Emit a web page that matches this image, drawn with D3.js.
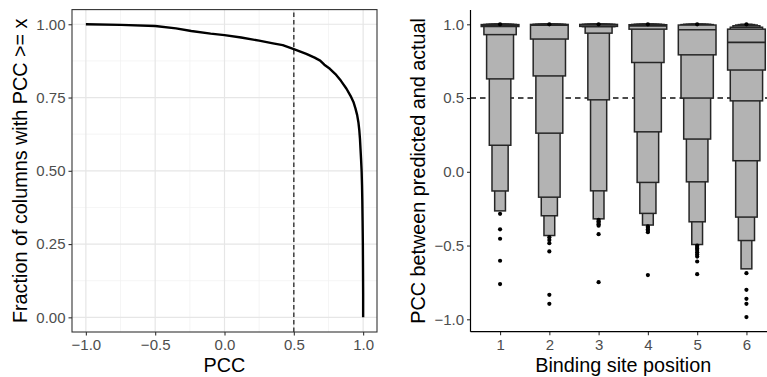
<!DOCTYPE html>
<html>
<head>
<meta charset="utf-8">
<script src="https://cdn.jsdelivr.net/npm/d3@7"></script>
<style>
  body { margin: 0; background: #fff; }
  svg { display: block; font-family: "Liberation Sans", Arial, Helvetica, sans-serif; }
  .tick text { fill: #4d4d4d; font-size: 15px; }
  .tick line { stroke: #333; stroke-width: 1.1; }
</style>
</head>
<body>
<div id="chart"></div>
<script>
// left panel: fraction of columns with PCC >= x
const pccX = [-1.0, -0.75, -0.5, -0.35, -0.24, -0.1, 0.0, 0.12, 0.25, 0.35, 0.42, 0.5,
  0.59, 0.65, 0.69, 0.72, 0.76, 0.8, 0.84, 0.88, 0.91, 0.93, 0.945, 0.957, 0.966, 0.972,
  0.977, 0.981, 0.985, 0.989, 0.992, 0.994, 0.996, 0.998, 0.999, 1.0, 1.0];
const fracGE = [1.0, 0.998, 0.994, 0.986, 0.977, 0.968, 0.963, 0.955, 0.944, 0.935, 0.929, 0.915,
  0.899, 0.886, 0.876, 0.862, 0.848, 0.83, 0.807, 0.78, 0.755, 0.735, 0.712, 0.69, 0.665, 0.64,
  0.61, 0.575, 0.54, 0.5, 0.45, 0.4, 0.33, 0.25, 0.17, 0.08, 0.0];
const leftXTicks = [-1.0, -0.5, 0.0, 0.5, 1.0];
const leftYTicks = [0, 0.25, 0.5, 0.75, 1.0];

// right panel: letter-value boxes per binding site position
const positions = ["1", "2", "3", "4", "5", "6"];
const medians = [0.995, 0.995, 0.997, 0.99, 0.963, 0.877];
const lowerLV = [
  [0.985, 0.93, 0.63, 0.18, -0.13, -0.265],
  [0.90, 0.65, 0.262, -0.172, -0.298, -0.432],
  [0.986, 0.984, 0.94, 0.488, -0.129, -0.319],
  [0.967, 0.741, 0.271, -0.072, -0.282, -0.361],
  [0.793, 0.5, 0.222, -0.068, -0.339, -0.493],
  [0.69, 0.481, 0.075, -0.307, -0.466, -0.658]
];
const upperLV = [
  [0.998, 0.999, 1.0, 1.0, 1.0, 1.0],
  [0.999, 1.0, 1.0, 1.0, 1.0, 1.0],
  [0.999, 1.0, 1.0, 1.0, 1.0, 1.0],
  [0.997, 0.999, 1.0, 1.0, 1.0, 1.0],
  [0.995, 0.998, 1.0, 1.0, 1.0, 1.0],
  [0.967, 0.98, 0.99, 0.995, 0.998, 1.0]
];
const outliers = [
  [1.0, -0.285, -0.39, -0.454, -0.603, -0.761],
  [1.0, -0.443, -0.462, -0.484, -0.54, -0.834, -0.895],
  [1.0, -0.325, -0.335, -0.345, -0.355, -0.365, -0.423, -0.748],
  [1.0, -0.37, -0.38, -0.39, -0.40, -0.41, -0.70],
  [1.0, -0.50, -0.51, -0.52, -0.53, -0.545, -0.56, -0.575, -0.608, -0.694],
  [1.0, -0.687, -0.80, -0.861, -0.895, -0.985]
];
const rightYTicks = [-1.0, -0.5, 0.0, 0.5, 1.0];

const W = 767, H = 377;
const svg = d3.select("#chart").append("svg")
  .attr("width", W).attr("height", H);

// ---------- left panel ----------
const lx = d3.scaleLinear().domain([-1.1, 1.1]).range([72, 377]);
const ly = d3.scaleLinear().domain([-0.05, 1.05]).range([332, 9.6]);
const left = svg.append("g");

left.append("rect")
  .attr("x", lx.range()[0]).attr("y", ly.range()[1])
  .attr("width", lx.range()[1] - lx.range()[0])
  .attr("height", ly.range()[0] - ly.range()[1])
  .attr("fill", "#fff");

// minor grid
const minorX = leftXTicks.slice(1).map((t, i) => (t + leftXTicks[i]) / 2);
const minorY = leftYTicks.slice(1).map((t, i) => (t + leftYTicks[i]) / 2);
left.selectAll(".minx").data(minorX).join("line")
  .attr("x1", d => lx(d)).attr("x2", d => lx(d))
  .attr("y1", ly.range()[0]).attr("y2", ly.range()[1])
  .attr("stroke", "#f1f1f1").attr("stroke-width", 0.7);
left.selectAll(".miny").data(minorY).join("line")
  .attr("y1", d => ly(d)).attr("y2", d => ly(d))
  .attr("x1", lx.range()[0]).attr("x2", lx.range()[1])
  .attr("stroke", "#f1f1f1").attr("stroke-width", 0.7);
// major grid
left.selectAll(".majx").data(leftXTicks).join("line")
  .attr("x1", d => lx(d)).attr("x2", d => lx(d))
  .attr("y1", ly.range()[0]).attr("y2", ly.range()[1])
  .attr("stroke", "#e6e6e6").attr("stroke-width", 1.2);
left.selectAll(".majy").data(leftYTicks).join("line")
  .attr("y1", d => ly(d)).attr("y2", d => ly(d))
  .attr("x1", lx.range()[0]).attr("x2", lx.range()[1])
  .attr("stroke", "#e6e6e6").attr("stroke-width", 1.2);

// dashed reference at 0.5
left.append("line")
  .attr("x1", lx(0.5)).attr("x2", lx(0.5))
  .attr("y1", ly.range()[0]).attr("y2", ly.range()[1])
  .attr("stroke", "#333").attr("stroke-width", 1.4)
  .attr("stroke-dasharray", "4.5,3");

// curve
const curve = d3.line().x((d, i) => lx(pccX[i])).y(d => ly(d));
left.append("path")
  .datum(fracGE)
  .attr("d", curve)
  .attr("fill", "none")
  .attr("stroke", "#000")
  .attr("stroke-width", 2.4)
  .attr("stroke-linejoin", "round");

// border
left.append("rect")
  .attr("x", lx.range()[0]).attr("y", ly.range()[1])
  .attr("width", lx.range()[1] - lx.range()[0])
  .attr("height", ly.range()[0] - ly.range()[1])
  .attr("fill", "none").attr("stroke", "#333").attr("stroke-width", 1.1);

left.append("g")
  .attr("transform", `translate(0,${ly.range()[0]})`)
  .call(d3.axisBottom(lx).tickValues(leftXTicks).tickFormat(d3.format(".1f")).tickSizeOuter(0).tickSize(3.5).tickPadding(3))
  .call(g => g.select(".domain").remove())
  .selectAll("text").attr("dy", "0.78em");

left.append("g")
  .attr("transform", `translate(${lx.range()[0]},0)`)
  .call(d3.axisLeft(ly).tickValues(leftYTicks).tickFormat(d3.format(".2f")).tickSizeOuter(0).tickSize(3.5).tickPadding(3))
  .call(g => g.select(".domain").remove());

left.append("text")
  .attr("x", (lx.range()[0] + lx.range()[1]) / 2).attr("y", 372)
  .attr("text-anchor", "middle").attr("font-size", 19.8).attr("fill", "#000")
  .text("PCC");
left.append("text")
  .attr("transform", `translate(27,${(ly.range()[0] + ly.range()[1]) / 2}) rotate(-90)`)
  .attr("text-anchor", "middle").attr("font-size", 19.8).attr("fill", "#000")
  .text("Fraction of columns with PCC >= x");

// ---------- right panel ----------
const rx = d3.scalePoint().domain(positions).range([470.5, 776]).padding(0.6);
const ry = d3.scaleLinear().domain([-1, 1]).range([319.3, 24.3]);
const right = svg.append("g");
const panelTop = 10, panelBottom = 331.7;

const boxW = rx.step() * 0.765;
const nLev = 7;

// dashed line at 0.5
right.append("line")
  .attr("x1", rx.range()[0]).attr("x2", W)
  .attr("y1", ry(0.5)).attr("y2", ry(0.5))
  .attr("stroke", "#111").attr("stroke-width", 1.4)
  .attr("stroke-dasharray", "5.5,4");

positions.forEach((p, ci) => {
  const g = right.append("g");
  const levels = lowerLV[ci].map((lo, k) => ({ lo, hi: upperLV[ci][k], k }));
  // outermost (narrowest) first, widest (fourths) on top
  g.selectAll("rect").data(levels.slice().reverse()).join("rect")
    .attr("x", d => rx(p) - boxW * (1 - d.k / nLev) / 2)
    .attr("width", d => boxW * (1 - d.k / nLev))
    .attr("y", d => ry(d.hi))
    .attr("height", d => Math.max(ry(d.lo) - ry(d.hi), 0.5))
    .attr("fill", "#b3b3b3")
    .attr("stroke", "#262626")
    .attr("stroke-width", 1.5);
  g.append("line")
    .attr("x1", rx(p) - boxW / 2).attr("x2", rx(p) + boxW / 2)
    .attr("y1", ry(medians[ci])).attr("y2", ry(medians[ci]))
    .attr("stroke", "#262626").attr("stroke-width", 1.7);
  g.selectAll("circle").data(outliers[ci]).join("circle")
    .attr("cx", rx(p)).attr("cy", d => ry(d))
    .attr("r", 2.1).attr("fill", "#000");
});

right.append("g")
  .attr("transform", `translate(0,${panelBottom})`)
  .call(d3.axisBottom(rx).tickSizeOuter(0).tickSize(3.5).tickPadding(3))
  .call(g => g.select(".domain").remove())
  .selectAll("text").attr("dy", "0.78em");

right.append("g")
  .attr("transform", `translate(${rx.range()[0]},0)`)
  .call(d3.axisLeft(ry).tickValues(rightYTicks).tickFormat(d3.format(".1f")).tickSizeOuter(0).tickSize(3.5).tickPadding(3))
  .call(g => g.select(".domain").remove());

// axis lines
right.append("line")
  .attr("x1", rx.range()[0]).attr("x2", W)
  .attr("y1", panelBottom).attr("y2", panelBottom)
  .attr("stroke", "#000").attr("stroke-width", 1.2);
right.append("line")
  .attr("x1", rx.range()[0]).attr("x2", rx.range()[0])
  .attr("y1", panelTop).attr("y2", panelBottom)
  .attr("stroke", "#000").attr("stroke-width", 1.2);

right.append("text")
  .attr("x", (rx.range()[0] + rx.range()[1]) / 2).attr("y", 372)
  .attr("text-anchor", "middle").attr("font-size", 19.8).attr("fill", "#000")
  .text("Binding site position");
right.append("text")
  .attr("transform", `translate(425,${(panelTop + panelBottom) / 2}) rotate(-90)`)
  .attr("text-anchor", "middle").attr("font-size", 19.8).attr("fill", "#000")
  .text("PCC between predicted and actual");
</script>
</body>
</html>
